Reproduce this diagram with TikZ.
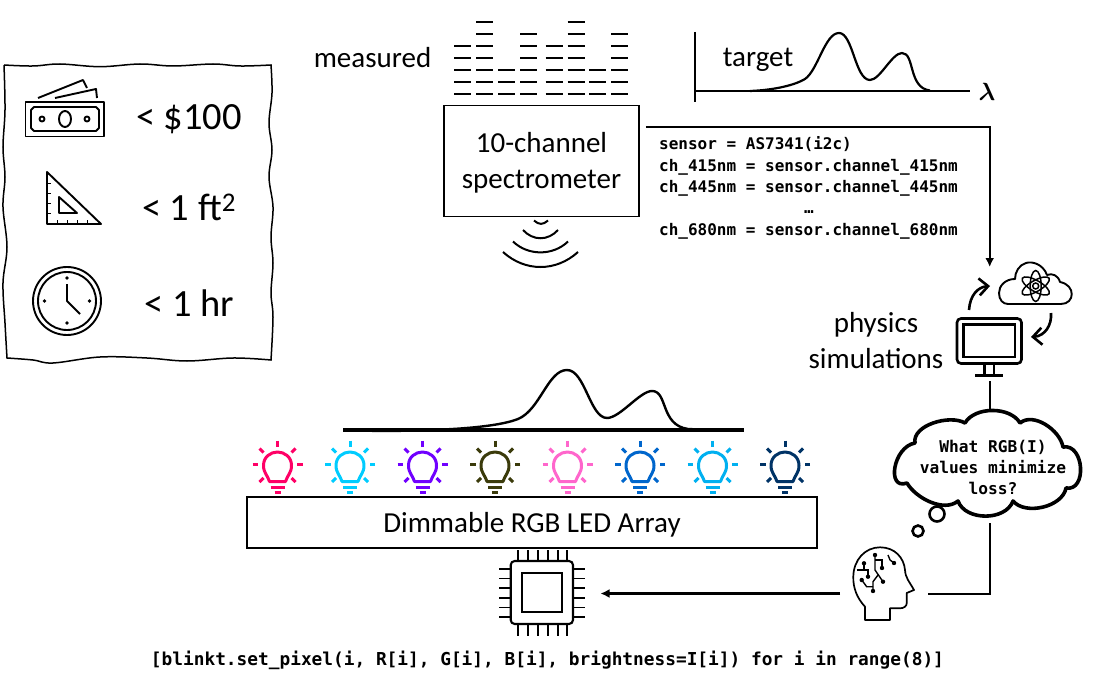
\documentclass[tikz,border=0pt]{standalone}
\usepackage{fontspec}
\setmainfont{Carlito}
\setmonofont{DejaVu Sans Mono}
\usetikzlibrary{arrows.meta}
\definecolor{ledpink}{HTML}{FF0066}
\definecolor{ledcyan}{HTML}{00CCFF}
\definecolor{ledviolet}{HTML}{7000FF}
\definecolor{ledolive}{HTML}{3B3B0B}
\definecolor{ledrose}{HTML}{FF66CC}
\definecolor{ledblue}{HTML}{0066CC}
\definecolor{ledsky}{HTML}{00B0F0}
\definecolor{lednavy}{HTML}{003366}
\tikzset{
    x=1pt, y=-1pt,
    wire/.style={line width=2.1pt},
    barb/.style={line width=2.6pt, -{Straight Barb[length=9pt,width=17pt]}},
    tipped/.style={line width=2.1pt, -{Latex[length=9pt,width=9pt]}},
    icon/.style={line width=1.9pt, line join=round},
    biglabel/.style={font=\fontsize{38.5}{42}\selectfont, inner sep=0pt},
    label/.style={font=\fontsize{29}{35.5}\selectfont, inner sep=0pt, align=center},
    codetext/.style={font=\fontsize{16}{21.4}\selectfont\ttfamily\bfseries, inner sep=0pt, align=left},
    panel/.style={draw, line width=1.9pt, inner sep=0pt, align=center}
}
\begin{document}
\begin{tikzpicture}
    \useasboundingbox (0,0) rectangle (1120,682);

    \draw[line width=1.5pt]
        plot[smooth, tension=0.6] coordinates {(4,65) (33,66) (60,64) (100,66.7) (140,64) (173,66) (213,64) (240,66) (271,65)}
        -- plot[smooth, tension=0.6] coordinates {(271,65) (272,93) (269,123) (272,150) (269,177) (273,207) (271,237) (273,263) (271,293) (273,317) (271,360)}
        -- plot[smooth, tension=0.6] coordinates {(271,360) (233,358) (187,361) (147,358) (100,357) (53,363) (33,360) (7,358)}
        -- plot[smooth, tension=0.6] coordinates {(7,358) (5,323) (3,283) (7,247) (3,207) (5,177) (3,147) (5,110) (4,65)};

    \draw[icon] (25.5,102) rectangle (104,136.5);
    \draw[icon] (34,107) -- (96,107) -- (99,110) -- (99,128) -- (96,131) -- (34,131) -- (31,128) -- (31,110) -- cycle;
    \draw[icon] (65,119) ellipse (6 and 8);
    \draw[icon] (42,119) circle (2.5);
    \draw[icon] (87,119) circle (2.5);
    \draw[icon] (38,98) -- (83,80) -- (87,88);
    \draw[icon] (55,98) -- (96,89) -- (97,98);

    \draw[icon] (47,172) -- (47,224) -- (101,224) -- cycle;
    \draw[icon] (59,197) -- (59,213) -- (77,213) -- cycle;
    \foreach \y in {184,194,204,214}
        \draw[line width=1pt] (47,\y) -- (51,\y);
    \foreach \x in {57,67,77,87}
        \draw[line width=1pt] (\x,224) -- (\x,220);

    \draw[icon] (67,301) circle (34);
    \draw[icon] (67,301) circle (29);
    \draw[icon] (67,284) -- (67,301) -- (80,314);
    \foreach \x/\y in {67/278, 67/323, 44.5/301, 89.5/301}
        \fill (\x,\y) circle (1.8);

    \node[biglabel] (budget) at (189,119) {< \$100};
    \node[biglabel] (area) at (189,207) {< 1 ft\textsuperscript{2}};
    \node[biglabel] (timing) at (189,303) {< 1 hr};

    \node[label] (measured) at (372.5,58) {measured};
    \foreach \x/\n in {462.5/5, 484.5/7, 506.5/3, 528.5/6, 554/5, 576/7, 597.5/3, 619.5/6}
        \foreach \r in {1,...,\n}
            \draw[line width=2.1pt] (\x-8.5,{94-12*(\r-1)}) -- (\x+8.5,{94-12*(\r-1)});

    \node[panel, label, minimum width=195pt, minimum height=111pt] (spectrometer) at (541.5,161) {\rule{0pt}{24pt}10-channel\\spectrometer};
    \draw[line width=2pt] (534,220.5) .. controls (539,225) and (543,225) .. (548,220.5);
    \draw[line width=2pt] (523,230) .. controls (533,241) and (548,241) .. (558,230);
    \draw[line width=2pt] (513,241.5) .. controls (528,256) and (553,256) .. (568,241.5);
    \draw[line width=2pt] (503,252) .. controls (525,272) and (556,272) .. (578,252);

    \draw[wire] (695,32) -- (695,102);
    \draw[wire] (695,91) -- (970,91);
    \draw[line width=2.2pt] (750,91) .. controls (775,90) and (795,85) .. (805,79)
        .. controls (818,70) and (825,33) .. (839,33)
        .. controls (853,33) and (855,80) .. (870,80)
        .. controls (880,80) and (892,53) .. (902,53)
        .. controls (915,53) and (908,88) .. (930,90.5);
    \node[label] (target) at (758,60) {target};
    \node[label, font=\fontsize{34}{36}\selectfont\boldmath] (wavelength) at (987,92) {$\lambda$};

    \node[codetext, anchor=north west] (readout) at (659,136.5) {sensor = AS7341(i2c)\\
        ch\_415nm = sensor.channel\_415nm\\
        ch\_445nm = sensor.channel\_445nm\\
        \hspace*{145pt}…\\
        ch\_680nm = sensor.channel\_680nm};

    \coordinate (cloudtop) at (989.7,267);
    \draw[tipped] ([xshift=6pt,yshift=34pt]spectrometer.east) -- (989.7,127) -- (cloudtop);

    \draw[line width=1.9pt, line join=round] (1008,304) -- (1061,304)
        .. controls (1075,304) and (1076,285) .. (1060,282)
        .. controls (1058,275) and (1052,273) .. (1047,275)
        .. controls (1043,264) and (1032,261) .. (1026,263)
        .. controls (1019,265) and (1015,272) .. (1015,279)
        .. controls (1005,279) and (999,286) .. (999,293)
        .. controls (999,300) and (1003,304) .. (1008,304) -- cycle;
    \foreach \a in {90,30,150}
        \draw[line width=1.5pt, rotate around={\a:(1035.7,286)}] (1035.7,286) ellipse (15.5 and 5.5);
    \draw[line width=1.5pt] (1035.7,286) circle (3);

    \draw[line width=2.6pt, rounded corners=4pt] (957,318.5) rectangle (1021.5,363.5);
    \draw[line width=2.4pt] (963.5,324.5) rectangle (1015,357);
    \draw[line width=2.4pt] (984.3,363) -- (984.3,375);
    \draw[line width=2.4pt] (994,363) -- (994,375);
    \draw[line width=2.4pt] (975,375.5) -- (1003,375.5);

    \coordinate (monitortop) at (969,310);
    \coordinate (cloudleft) at (990,286);
    \coordinate (cloudbase) at (1051,313);
    \coordinate (monitorside) at (1031,337);
    \coordinate (monitorbase) at (989.7,381);
    \draw[barb] (monitortop) .. controls (970,295) and (978,287) .. (cloudleft);
    \draw[barb] (cloudbase) .. controls (1052,325) and (1045,336) .. (monitorside);
    \node[label] (physics) at (876,340.5) {physics\\simulations};

    \node[codetext, align=center, font=\fontsize{16.2}{21}\selectfont\ttfamily\bfseries] (question) at (993,467) {What RGB(I)\\values minimize\\loss?};
    \coordinate (j1) at (915,443);
    \coordinate (j2) at (965,423);
    \coordinate (j3) at (1020,423);
    \coordinate (j4) at (1063,447);
    \coordinate (j5) at (1066,488);
    \coordinate (j6) at (1013,501);
    \coordinate (j7) at (958,501);
    \coordinate (j8) at (907,483);
    \draw[line width=3.6pt, line join=round] (j8) to[out=200, in=190, looseness=1.4] (j1)
        to[out=100, in=150, looseness=0.85] (j2)
        to[out=60, in=120, looseness=0.9] (j3)
        to[out=40, in=100, looseness=0.9] (j4)
        to[out=10, in=-10, looseness=1.35] (j5)
        to[out=-100, in=-50, looseness=0.9] (j6)
        to[out=-110, in=-70, looseness=1] (j7)
        to[out=-140, in=-60, looseness=0.85] (j8) -- cycle;
    \draw[line width=2.6pt] (937,514) circle (7.5);
    \draw[line width=2.6pt] (918,531) circle (5.5);

    \coordinate (thoughttop) at (989.7,410);
    \coordinate (thoughtbase) at (989.7,523);
    \draw[wire] (monitorbase) -- (thoughttop);
    \coordinate (headside) at (928,594);
    \draw[wire] (thoughtbase) -- (989.7,594) -- (headside);

    \draw[icon, line width=1.7pt] (865,620) -- (865,606.7)
        .. controls (857,598) and (853,588) .. (853.3,576.7)
        .. controls (853.5,560) and (865,547.3) .. (880,547.3)
        .. controls (895,547.3) and (904,558) .. (905,570)
        .. controls (905.5,578) and (909,581) .. (914,590)
        -- (906.7,593) -- (906.7,603.3)
        .. controls (906.7,606) and (904,608.3) .. (900,608.3)
        -- (890,608.3) -- (890,620) -- cycle;
    \draw[line width=1.4pt] (875,555) -- (875,570) -- (883,581.7);
    \draw[line width=1.4pt] (875,560) -- (882,560) -- (882,568);
    \draw[line width=1.4pt] (873,591) -- (873,581.7) -- (878,575);
    \draw[line width=1.4pt] (861.7,580) -- (866.7,586.7) -- (873,586.7);
    \draw[line width=1.4pt] (864,563.3) -- (864,570);
    \draw[line width=1.4pt] (856.7,570) -- (868,570) -- (868,576.7);
    \draw[line width=1.4pt] (888,555) -- (890,560) -- (894,563);
    \foreach \x/\y in {875/555, 883/581.7, 882/568, 873/591, 861.7/580, 864/563.3, 868/576.7, 894/563}
        \fill (\x,\y) circle (2.2);

    \coordinate (headfront) at (840,593.5);
    \coordinate (chipside) at (600.5,593.5);
    \draw[tipped] (headfront) -- (chipside);

    \draw[line width=2.1pt, rounded corners=4pt] (510.7,561) rectangle (573,624);
    \draw[line width=2.1pt] (522,572.7) rectangle (562,612);
    \foreach \x in {517.7,527.7,537.7,547.7,557.7,566.7} {
        \draw[line width=1.6pt] (\x,550) -- (\x,561);
        \draw[line width=1.6pt] (\x,624) -- (\x,636);
    }
    \foreach \y in {568.7,578.3,588,597.7,607.3,617} {
        \draw[line width=1.6pt] (499,\y) -- (510.7,\y);
        \draw[line width=1.6pt] (573,\y) -- (585,\y);
    }

    \node[panel, label, minimum width=570pt, minimum height=51pt] (ledarray) at (532,522.5) {\rule{0pt}{24pt}Dimmable RGB LED Array};

    \foreach \x/\c in {277.5/ledpink, 350/ledcyan, 422.5/ledviolet, 495/ledolive, 567.5/ledrose, 640/ledblue, 712.5/ledsky, 785/lednavy} {
        \begin{scope}[shift={(\x,0)}, \c, line width=3pt]
            \draw[line join=round] (-8,481.5) .. controls (-10,475) and (-14,473) .. (-14,465.5)
                .. controls (-14,457) and (-7,452) .. (0,452)
                .. controls (7,452) and (14,457) .. (14,465.5)
                .. controls (14,473) and (10,475) .. (8,481.5) -- cycle;
            \draw (-7,487) -- (7,487);
            \draw (-3,492.5) -- (3,492.5);
            \draw (0,440.5) -- (0,446.5);
            \foreach \s in {-1,1} {
                \draw (\s*25,464.5) -- (\s*19.5,464.5);
                \draw (\s*18,448.5) -- (\s*14,452.5);
                \draw (\s*18,482) -- (\s*14,478);
            }
        \end{scope}
    }

    \draw[line width=3.2pt] (343,430) -- (743.5,430);
    \draw[line width=2.4pt] (372,431) .. controls (440,431) and (495,428) .. (518,419)
        .. controls (540,410) and (548,370) .. (567,370)
        .. controls (585,370) and (590,418) .. (607,418)
        .. controls (620,418) and (640,391) .. (652,391)
        .. controls (668,391) and (660,425) .. (688,429)
        -- (710,430);

    \node[codetext, font=\fontsize{17.8}{21}\selectfont\ttfamily\bfseries] (blinkt) at (547.5,660.5) {[blinkt.set\_pixel(i, R[i], G[i], B[i], brightness=I[i]) for i in range(8)]};
\end{tikzpicture}
\end{document}
